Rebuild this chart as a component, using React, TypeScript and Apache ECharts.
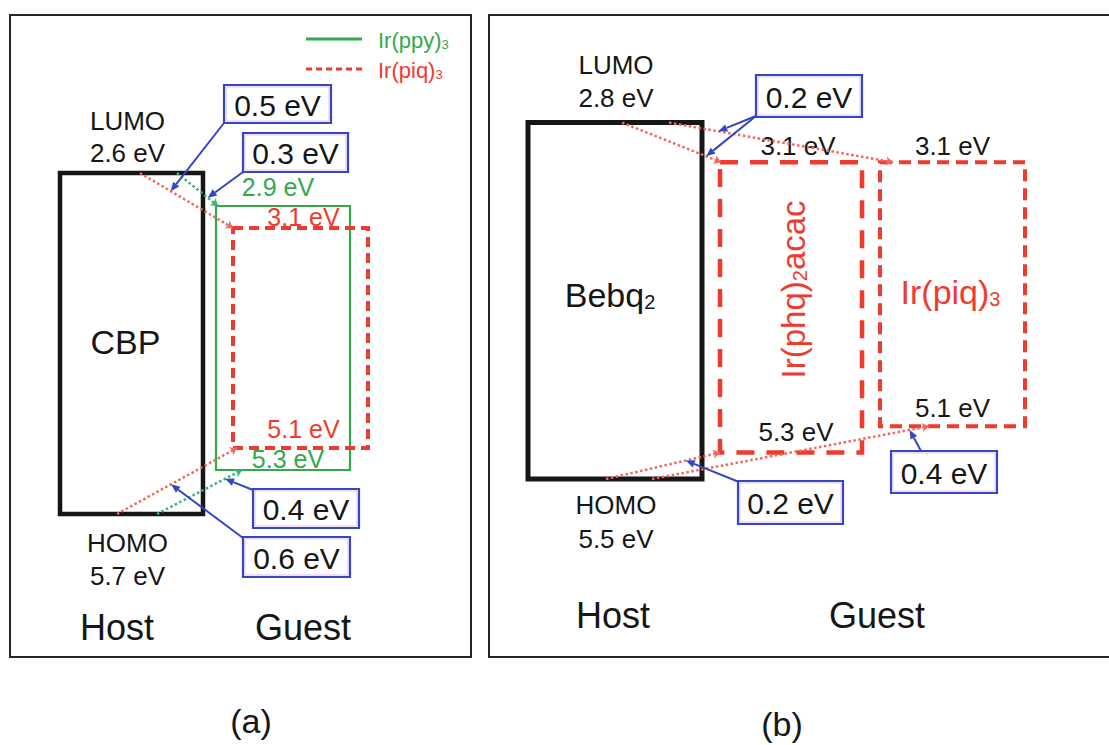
import React, { useEffect, useRef } from "react";
import * as echarts from "echarts";

// ---------------- data ----------------
const moleculesA = ["CBP", "Ir(ppy)3", "Ir(piq)3"];
const lumoA = [2.6, 2.9, 3.1];
const homoA = [5.7, 5.3, 5.1];
const moleculesB = ["Bebq2", "Ir(phq)2acac", "Ir(piq)3"];
const lumoB = [2.8, 3.1, 3.1];
const homoB = [5.5, 5.3, 5.1];
const barrierTextA = ["0.5 eV", "0.3 eV", "0.4 eV", "0.6 eV"];
const barrierTextB = ["0.2 eV", "0.2 eV", "0.4 eV"];
const levelNames = ["LUMO", "HOMO"];
const roleLabels = ["Host", "Guest"];
const panelTitles = ["(a)", "(b)"];

// ---------------- layout & style ----------------
const FONT = "'Liberation Sans', Arial, Helvetica, sans-serif";
const RED = "#ee3b2f";
const GREEN = "#34a94a";
const BLACK = "#161616";
const BLUE = "#3447be";
const RED_DOT = "#f2685a";
const GREEN_DOT = "#3cb27a";

const BOX_X_A = [[60, 203], [216, 350], [233, 368]];
const BOX_X_B = [[528, 702], [720, 862], [880, 1025]];
const BOX_STYLE_A: any[] = [
  { stroke: BLACK, lineWidth: 4.5 },
  { stroke: GREEN, lineWidth: 2.2 },
  { stroke: RED, lineWidth: 4, lineDash: [10, 6] },
];
const BOX_STYLE_B: any[] = [
  { stroke: BLACK, lineWidth: 5 },
  { stroke: RED, lineWidth: 4.5, lineDash: [18, 12] },
  { stroke: RED, lineWidth: 4, lineDash: [12, 7] },
];

// connectors: x of start (on host level), target box, x of end, level (0 LUMO / 1 HOMO)
const CONN_A = [
  { x1: 140, x2: 233, to: 2, level: 0, color: RED_DOT },
  { x1: 177, x2: 218, to: 1, level: 0, color: GREEN_DOT },
  { x1: 117, x2: 237, to: 2, level: 1, color: RED_DOT },
  { x1: 157, x2: 242, to: 1, level: 1, color: GREEN_DOT },
];
const CONN_B = [
  { x1: 622, x2: 721, to: 1, level: 0, color: RED_DOT },
  { x1: 669, x2: 893, to: 2, level: 0, color: RED_DOT },
  { x1: 606, x2: 720, to: 1, level: 1, color: RED_DOT },
  { x1: 652, x2: 929, to: 2, level: 1, color: RED_DOT },
];

const ANN_A = [
  { rect: [224, 85, 107, 38], arrows: [{ s: [224, 123], conn: 0, t: 0.33 }] },
  { rect: [243, 133, 105, 39], arrows: [{ s: [243, 172], conn: 1, t: 0.75 }] },
  { rect: [253, 489, 106, 39], arrows: [{ s: [253, 490], conn: 3, t: 0.8 }] },
  { rect: [243, 537, 107, 40], arrows: [{ s: [243, 538], conn: 2, t: 0.45 }] },
];
const ANN_B = [
  {
    rect: [756, 75, 106, 42],
    arrows: [
      { s: [756, 116], conn: 1, t: 0.22 },
      { s: [756, 116], conn: 0, t: 0.85 },
    ],
  },
  { rect: [738, 481, 105, 43], arrows: [{ s: [739, 482], conn: 2, t: 0.7 }] },
  { rect: [891, 451, 106, 42], arrows: [{ s: [921, 451], conn: 3, t: 0.93 }] },
];

// ---------------- helpers ----------------
const ev = (v: number) => `${v.toFixed(1)} eV`;
const richName = (s: string) => s.replace(/(\d)/g, "{s|$1}");

function txt(x: number, y: number, text: string, size: number, color: string, extra: any = {}) {
  return {
    type: "text",
    x,
    y,
    ...extra,
    style: {
      text,
      fill: color,
      fontSize: size,
      fontFamily: FONT,
      textAlign: extra.align || "center",
      textVerticalAlign: "middle",
    },
  };
}

function nameTxt(x: number, y: number, name: string, size: number, color: string, extra: any = {}) {
  return {
    type: "text",
    x,
    y,
    ...extra,
    style: {
      text: richName(name),
      fill: color,
      fontSize: size,
      fontFamily: FONT,
      textAlign: extra.align || "center",
      textVerticalAlign: "middle",
      rich: {
        s: {
          fontSize: Math.round(size * 0.6),
          fontFamily: FONT,
          fill: color,
          verticalAlign: "bottom",
        },
      },
    },
  };
}

function arrow(sx: number, sy: number, tx: number, ty: number, color: string) {
  const dx = tx - sx;
  const dy = ty - sy;
  const len = Math.hypot(dx, dy) || 1;
  const ux = dx / len;
  const uy = dy / len;
  const head = 9;
  const hw = 3.8;
  const bx = tx - ux * head;
  const by = ty - uy * head;
  const px = -uy;
  const py = ux;
  return [
    { type: "line", shape: { x1: sx, y1: sy, x2: bx, y2: by }, style: { stroke: color, lineWidth: 2 } },
    {
      type: "polygon",
      shape: { points: [[tx, ty], [bx + px * hw, by + py * hw], [bx - px * hw, by - py * hw]] },
      style: { fill: color },
    },
  ];
}

function labelsA(i: number, l: number, h: number, left: number, right: number, top: number, bottom: number) {
  const cx = (left + right) / 2;
  const cy = (top + bottom) / 2;
  if (i === 0)
    return [
      txt(cx - 4, top - 52, levelNames[0], 26, BLACK),
      txt(cx - 4, top - 20, ev(l), 26, BLACK),
      txt(cx - 4, bottom + 29, levelNames[1], 26, BLACK),
      txt(cx - 4, bottom + 62, ev(h), 26, BLACK),
      nameTxt(cx - 6, cy - 2, moleculesA[0], 34, BLACK),
    ];
  if (i === 1) return [txt(cx - 5, top - 19, ev(l), 25, GREEN), txt(cx + 5, bottom - 11, ev(h), 25, GREEN)];
  return [txt(cx + 3, top - 11, ev(l), 25, RED), txt(cx + 3, bottom - 19, ev(h), 25, RED)];
}

function labelsB(i: number, l: number, h: number, left: number, right: number, top: number, bottom: number) {
  const cx = (left + right) / 2;
  const cy = (top + bottom) / 2;
  if (i === 0)
    return [
      txt(cx + 1, top - 58, levelNames[0], 26, BLACK),
      txt(cx + 1, top - 25, ev(l), 26, BLACK),
      txt(cx + 1, bottom + 26, levelNames[1], 26, BLACK),
      txt(cx + 1, bottom + 60, ev(h), 26, BLACK),
      nameTxt(cx - 5, cy - 6, moleculesB[0], 34, BLACK),
    ];
  if (i === 1)
    return [
      txt(cx + 7, top - 16, ev(l), 26, BLACK),
      txt(cx + 5, bottom - 21, ev(h), 26, BLACK),
      nameTxt(cx + 2, cy - 18, moleculesB[1], 33, RED, { rotation: Math.PI / 2 }),
    ];
  return [
    txt(cx, top - 16, ev(l), 26, BLACK),
    txt(cx, bottom - 18, ev(h), 26, BLACK),
    nameTxt(cx - 2, cy - 2, moleculesB[2], 34, RED),
  ];
}

function boxSeries(
  grid: number,
  boxX: number[][],
  styles: any[],
  lumo: number[],
  homo: number[],
  names: string[],
  labels: typeof labelsA
) {
  return {
    type: "custom",
    xAxisIndex: grid,
    yAxisIndex: grid,
    z: 3,
    data: names.map((_, i) => [i, lumo[i], homo[i]]),
    renderItem: (params: any, api: any) => {
      const i = params.dataIndex;
      const l = lumo[i];
      const h = homo[i];
      const pTop = api.coord([boxX[i][0], l]);
      const pBot = api.coord([boxX[i][1], h]);
      const left = pTop[0];
      const top = pTop[1];
      const right = pBot[0];
      const bottom = pBot[1];
      return {
        type: "group",
        children: [
          {
            type: "rect",
            shape: { x: left, y: top, width: right - left, height: bottom - top },
            style: { ...styles[i], fill: "rgba(0,0,0,0)" },
          },
          ...labels(i, l, h, left, right, top, bottom),
        ],
      };
    },
  };
}

function connData(conns: any[], lumo: number[], homo: number[]) {
  return conns.map((c) => {
    const arr = c.level === 0 ? lumo : homo;
    return {
      coords: [
        [c.x1, arr[0]],
        [c.x2, arr[c.to]],
      ],
      lineStyle: { color: c.color },
    };
  });
}

function connSeries(grid: number, conns: any[], lumo: number[], homo: number[]) {
  return {
    type: "lines",
    coordinateSystem: "cartesian2d",
    xAxisIndex: grid,
    yAxisIndex: grid,
    z: 5,
    symbol: ["none", "arrow"],
    symbolSize: 7,
    lineStyle: { width: 2.5, type: [2.5, 2.5], opacity: 1, curveness: 0 },
    data: connData(conns, lumo, homo),
  };
}

function annSeries(grid: number, anns: any[], texts: string[], conns: any[], lumo: number[], homo: number[]) {
  return {
    type: "custom",
    xAxisIndex: grid,
    yAxisIndex: grid,
    z: 6,
    data: texts.map((_, i) => [i, lumo[0]]),
    renderItem: (params: any, api: any) => {
      const i = params.dataIndex;
      const a = anns[i];
      const [rx, ry, rw, rh] = a.rect;
      const children: any[] = [
        {
          type: "rect",
          shape: { x: rx, y: ry, width: rw, height: rh },
          style: { stroke: BLUE, lineWidth: 2.2, fill: "rgba(255,255,255,0)" },
        },
        {
          type: "rect",
          shape: { x: rx + 2, y: ry + 2, width: rw - 4, height: rh - 4 },
          style: { stroke: "#c46ad0", lineWidth: 0.8, opacity: 0.55, fill: "rgba(255,255,255,0)" },
        },
        txt(rx + rw / 2, ry + rh / 2 + 1, texts[i], 30, BLACK),
      ];
      a.arrows.forEach((ar: any) => {
        const c = conns[ar.conn];
        const arr = c.level === 0 ? lumo : homo;
        const p1 = api.coord([c.x1, arr[0]]);
        const p2 = api.coord([c.x2, arr[c.to]]);
        const tx = p1[0] + (p2[0] - p1[0]) * ar.t;
        const ty = p1[1] + (p2[1] - p1[1]) * ar.t;
        children.push(...arrow(ar.s[0], ar.s[1], tx, ty, BLUE));
      });
      return { type: "group", children };
    },
  };
}

function buildOption(): any {
  const graphic: any[] = [
    { type: "rect", shape: { x: 10, y: 15, width: 461, height: 642 }, style: { stroke: "#262626", lineWidth: 2, fill: "rgba(0,0,0,0)" }, z: 1 },
    { type: "rect", shape: { x: 489, y: 15, width: 640, height: 642 }, style: { stroke: "#262626", lineWidth: 2, fill: "rgba(0,0,0,0)" }, z: 1 },
    // legend (a)
    { type: "line", shape: { x1: 306, y1: 39, x2: 362, y2: 39 }, style: { stroke: GREEN, lineWidth: 3 }, z: 1 },
    { type: "line", shape: { x1: 306, y1: 69, x2: 362, y2: 69 }, style: { stroke: RED, lineWidth: 3, lineDash: [6, 4] }, z: 1 },
    nameTxt(378, 40, moleculesA[1], 22, GREEN, { align: "left", z: 1 }),
    nameTxt(378, 70, moleculesA[2], 22, RED, { align: "left", z: 1 }),
    txt(117, 627, roleLabels[0], 36, BLACK, { z: 1 }),
    txt(303, 627, roleLabels[1], 36, BLACK, { z: 1 }),
    txt(613, 615, roleLabels[0], 36, BLACK, { z: 1 }),
    txt(877, 615, roleLabels[1], 36, BLACK, { z: 1 }),
    txt(251, 721, panelTitles[0], 34, BLACK, { z: 1 }),
    txt(782, 724, panelTitles[1], 34, BLACK, { z: 1 }),
  ];

  return {
    animation: false,
    backgroundColor: "#ffffff",
    grid: [
      { left: 10, top: 8, width: 460, height: 649 },
      { left: 489, top: 17, width: 620, height: 640 },
    ],
    xAxis: [
      { type: "value", gridIndex: 0, min: 10, max: 470, show: false },
      { type: "value", gridIndex: 1, min: 489, max: 1109, show: false },
    ],
    yAxis: [
      { type: "value", gridIndex: 0, inverse: true, min: 1.1, max: 1.1 + 649 / 110, show: false },
      { type: "value", gridIndex: 1, inverse: true, min: 2, max: 2 + 640 / 132, show: false },
    ],
    graphic,
    series: [
      boxSeries(0, BOX_X_A, BOX_STYLE_A, lumoA, homoA, moleculesA, labelsA),
      boxSeries(1, BOX_X_B, BOX_STYLE_B, lumoB, homoB, moleculesB, labelsB),
      connSeries(0, CONN_A, lumoA, homoA),
      connSeries(1, CONN_B, lumoB, homoB),
      annSeries(0, ANN_A, barrierTextA, CONN_A, lumoA, homoA),
      annSeries(1, ANN_B, barrierTextB, CONN_B, lumoB, homoB),
    ],
  };
}

export default function App() {
  const ref = useRef<HTMLDivElement>(null);
  useEffect(() => {
    document.body.style.margin = "0";
    const chart = echarts.init(ref.current as HTMLDivElement, null, { renderer: "svg" });
    chart.setOption(buildOption());
    return () => chart.dispose();
  }, []);
  return (
    <div
      ref={ref}
      style={{ position: "absolute", left: 0, top: 0, width: 1109, height: 745, background: "#fff" }}
    />
  );
}
